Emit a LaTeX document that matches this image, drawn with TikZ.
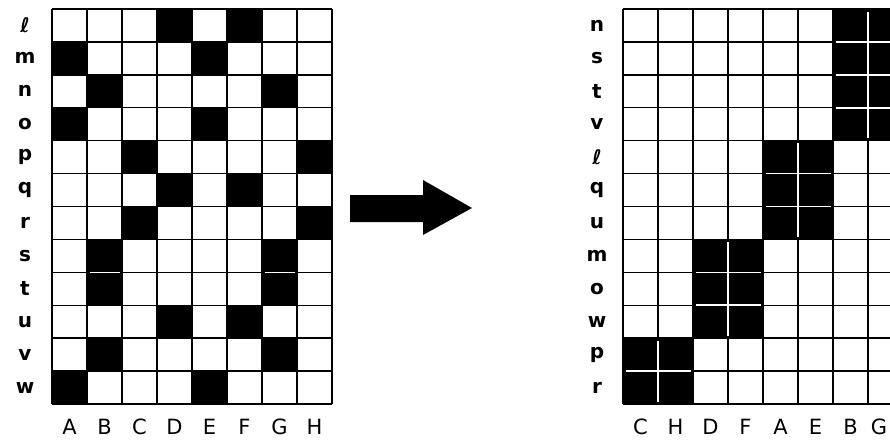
\documentclass[tikz,border=0pt]{standalone}
\usepackage{fontspec}
\setmainfont{DejaVu Sans}
\begin{document}
\begin{tikzpicture}[x=1pt,y=-1pt,
  gridline/.style={line width=1.4pt, black},
  gap/.style={line width=1.6pt, white, shorten >=2.5pt, shorten <=2.5pt},
  cellfill/.style={fill=black},
  rowlbl/.style={font=\fontsize{20}{20}\selectfont\bfseries, inner sep=0pt, anchor=center},
  collbl/.style={font=\fontsize{21}{21}\selectfont, inner sep=0pt, anchor=center}]
\useasboundingbox (0,0) rectangle (890,439);
\clip (0,0) rectangle (890,439);
\def\rh{32.917}
% ---------- left grid ----------
\foreach \r/\c in {0/3,0/5,1/0,1/4,2/1,2/6,3/0,3/4,4/2,4/7,5/3,5/5,6/2,6/7,7/1,7/6,8/1,8/6,9/3,9/5,10/1,10/6,11/0,11/4}
  \fill[cellfill] (52+\c*35,9+\r*\rh) rectangle ++(35,\rh);
\foreach \i in {0,...,8}
  \draw[gridline] (52+\i*35,9) -- (52+\i*35,404);
\foreach \j in {0,...,12}
  \draw[gridline] (52,9+\j*\rh) -- (332,9+\j*\rh);
% white gaps between touching black cells
\foreach \c in {1,6}
  \draw[gap] (52+\c*35,9+8*\rh) -- (52+\c*35+35,9+8*\rh);
\foreach \t [count=\k from 0] in {ℓ,m,n,o,p,q,r,s,t,u,v,w}
  \node[rowlbl] (lrow\k) at (25,9+\k*\rh+0.5*\rh) {\t};
\foreach \t [count=\k from 0] in {A,B,C,D,E,F,G,H}
  \node[collbl] (lcol\k) at (52+\k*35+17.5,427) {\t};
% ---------- arrow ----------
\fill (350,195) -- (423,195) -- (423,180) -- (472,208) -- (423,235) -- (423,222) -- (350,222) -- cycle;
% ---------- right grid ----------
\foreach \r/\c in {0/6,0/7,1/6,1/7,2/6,2/7,3/6,3/7,4/4,4/5,5/4,5/5,6/4,6/5,7/2,7/3,8/2,8/3,9/2,9/3,10/0,10/1,11/0,11/1}
  \fill[cellfill] (623+\c*35,9+\r*\rh) rectangle ++(35,\rh);
\foreach \i in {0,...,8}
  \draw[gridline] (623+\i*35,9) -- (623+\i*35,404);
\foreach \j in {0,...,12}
  \draw[gridline] (623,9+\j*\rh) -- (903,9+\j*\rh);
% white gaps inside the black blocks
\foreach \a/\b/\c in {0/3/6,4/6/4,7/9/2,10/11/0}{
  \draw[gap] (623+\c*35+35,9+\a*\rh) -- (623+\c*35+35,9+\b*\rh+\rh);
  \ifnum\a<\b
    \pgfmathtruncatemacro{\aa}{\a+1}
    \foreach \j in {\aa,...,\b}
      \draw[gap] (623+\c*35,9+\j*\rh) -- (623+\c*35+70,9+\j*\rh);
  \fi
}
\foreach \t [count=\k from 0] in {n,s,t,v,ℓ,q,u,m,o,w,p,r}
  \node[rowlbl] (rrow\k) at (597,9+\k*\rh+0.5*\rh) {\t};
\foreach \t [count=\k from 0] in {C,H,D,F,A,E,B}
  \node[collbl] (rcol\k) at (623+\k*35+17.5,427) {\t};
\node[collbl] (rcol7) at (879,427) {G};
\end{tikzpicture}
\end{document}
